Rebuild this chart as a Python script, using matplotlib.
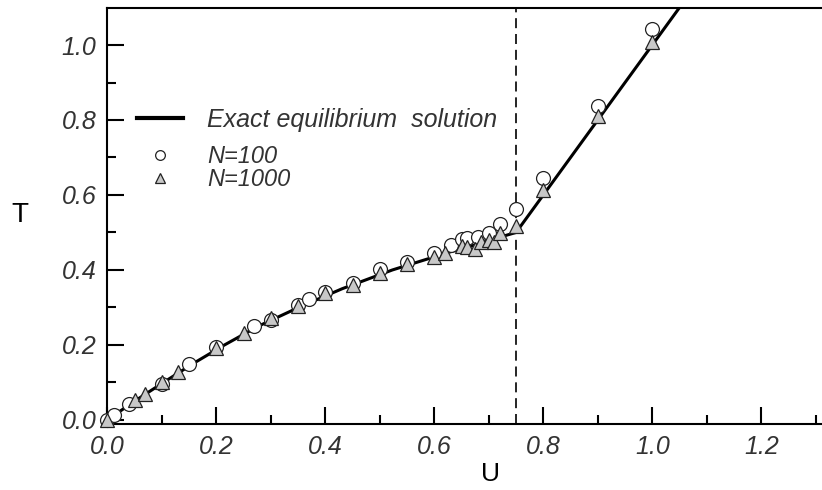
import matplotlib
matplotlib.use("Agg")
import matplotlib.pyplot as plt
from matplotlib.lines import Line2D
from matplotlib.ticker import MultipleLocator

plt.rcParams['font.family'] = ['Liberation Sans', 'DejaVu Sans']

# exact equilibrium solution
u_exact = [0.0, 0.05, 0.103, 0.157, 0.215, 0.277, 0.351, 0.431, 0.477, 0.523,
           0.633, 0.66, 0.681, 0.704, 0.726, 0.75, 1.1]
t_exact = [0.0, 0.05, 0.1, 0.15, 0.2, 0.25, 0.3, 0.35, 0.375, 0.4,
           0.45, 0.46, 0.47, 0.48, 0.49, 0.5, 1.2]

# N=100 simulation
u_n100 = [0.0, 0.012, 0.04, 0.1, 0.15, 0.2, 0.27, 0.3, 0.35, 0.37, 0.4, 0.45,
          0.5, 0.55, 0.6, 0.63, 0.65, 0.66, 0.68, 0.7, 0.72, 0.75, 0.8, 0.9, 1.0]
t_n100 = [0.0, 0.012, 0.042, 0.096, 0.148, 0.194, 0.251, 0.267, 0.306, 0.323, 0.34, 0.364,
          0.402, 0.42, 0.444, 0.467, 0.482, 0.486, 0.489, 0.498, 0.523, 0.563, 0.644, 0.838, 1.042]

# N=1000 simulation
u_n1000 = [0.0, 0.05, 0.07, 0.1, 0.13, 0.2, 0.25, 0.3, 0.35, 0.4, 0.45, 0.5, 0.55,
           0.6, 0.62, 0.65, 0.66, 0.675, 0.685, 0.7, 0.71, 0.72, 0.75, 0.8, 0.9, 1.0]
t_n1000 = [0.0, 0.053, 0.069, 0.1, 0.129, 0.192, 0.233, 0.271, 0.305, 0.338, 0.361, 0.393, 0.415,
           0.434, 0.444, 0.464, 0.461, 0.455, 0.475, 0.48, 0.475, 0.498, 0.517, 0.613, 0.811, 1.009]

u_crit = 0.75

fig = plt.figure(figsize=(8.22, 4.9), dpi=100)
ax = fig.add_axes([107.3 / 822, 1 - 423.7 / 490, 1 - 107.3 / 822, (423.7 - 8) / 490])

ax.axvline(u_crit, color='black', lw=1.2, ls=(0, (6, 3.5)), zorder=1)
ax.plot(u_exact, t_exact, color='black', lw=2.2, zorder=2)
ax.plot(u_n100, t_n100, ls='none', marker='o', ms=10, mfc='white', mec='#222222',
        mew=0.9, zorder=3, clip_on=False)
ax.plot(u_n1000, t_n1000, ls='none', marker='^', ms=10, mfc='#c8c8c8', mec='#222222',
        mew=0.9, zorder=4, clip_on=False)

ax.set_xlim(0, (822 - 107.3) / 545)
ax.set_ylim(-0.01, 1.0987)

ax.xaxis.set_major_locator(MultipleLocator(0.2))
ax.xaxis.set_minor_locator(MultipleLocator(0.1))
ax.yaxis.set_major_locator(MultipleLocator(0.2))
ax.yaxis.set_minor_locator(MultipleLocator(0.1))
ax.xaxis.set_major_formatter(lambda v, p: "%.1f" % v)
ax.yaxis.set_major_formatter(lambda v, p: "%.1f" % v)

ax.tick_params(which='both', direction='in', top=False, right=False, width=1.5,
               labelsize=18, labelcolor='#333333')
ax.tick_params(which='major', length=12)
ax.tick_params(which='minor', length=6.5)
ax.tick_params(axis='x', pad=8)
ax.tick_params(axis='y', pad=8)
for lab in ax.get_xticklabels() + ax.get_yticklabels():
    lab.set_fontstyle('italic')

ax.spines['right'].set_visible(False)
for s in ['left', 'bottom', 'top']:
    ax.spines[s].set_linewidth(1.5)

fig.text(20 / 822, 1 - 215 / 490, 'T', fontsize=20, ha='center', va='center')
fig.text(490 / 822, 1 - 474 / 490, 'U', fontsize=19, ha='center', va='center')

# legend
h_line = Line2D([], [], color='black', lw=3)
leg1 = ax.legend([h_line], ['Exact equilibrium  solution'], loc='center left',
                 bbox_to_anchor=(137 / 822, 1 - 120 / 490), bbox_transform=fig.transFigure,
                 frameon=False, borderpad=0, borderaxespad=0, handlelength=1.84,
                 handletextpad=0.96, prop={'style': 'italic', 'size': 18})
for t in leg1.get_texts():
    t.set_color('#333333')
ax.add_artist(leg1)

h_c = Line2D([], [], ls='none', marker='o', ms=7, mfc='white', mec='#222222', mew=0.9)
h_t = Line2D([], [], ls='none', marker='^', ms=7, mfc='#c8c8c8', mec='#222222', mew=0.9)
leg2 = ax.legend([h_c, h_t], ['N=100', 'N=1000'], loc='center left',
                 bbox_to_anchor=(137 / 822, 1 - 168 / 490), bbox_transform=fig.transFigure,
                 frameon=False, borderpad=0, borderaxespad=0, handlelength=1.95,
                 handletextpad=1.02, labelspacing=0.0, prop={'style': 'italic', 'size': 17})
for t in leg2.get_texts():
    t.set_color('#333333')

fig.savefig('out.png', dpi=100)
